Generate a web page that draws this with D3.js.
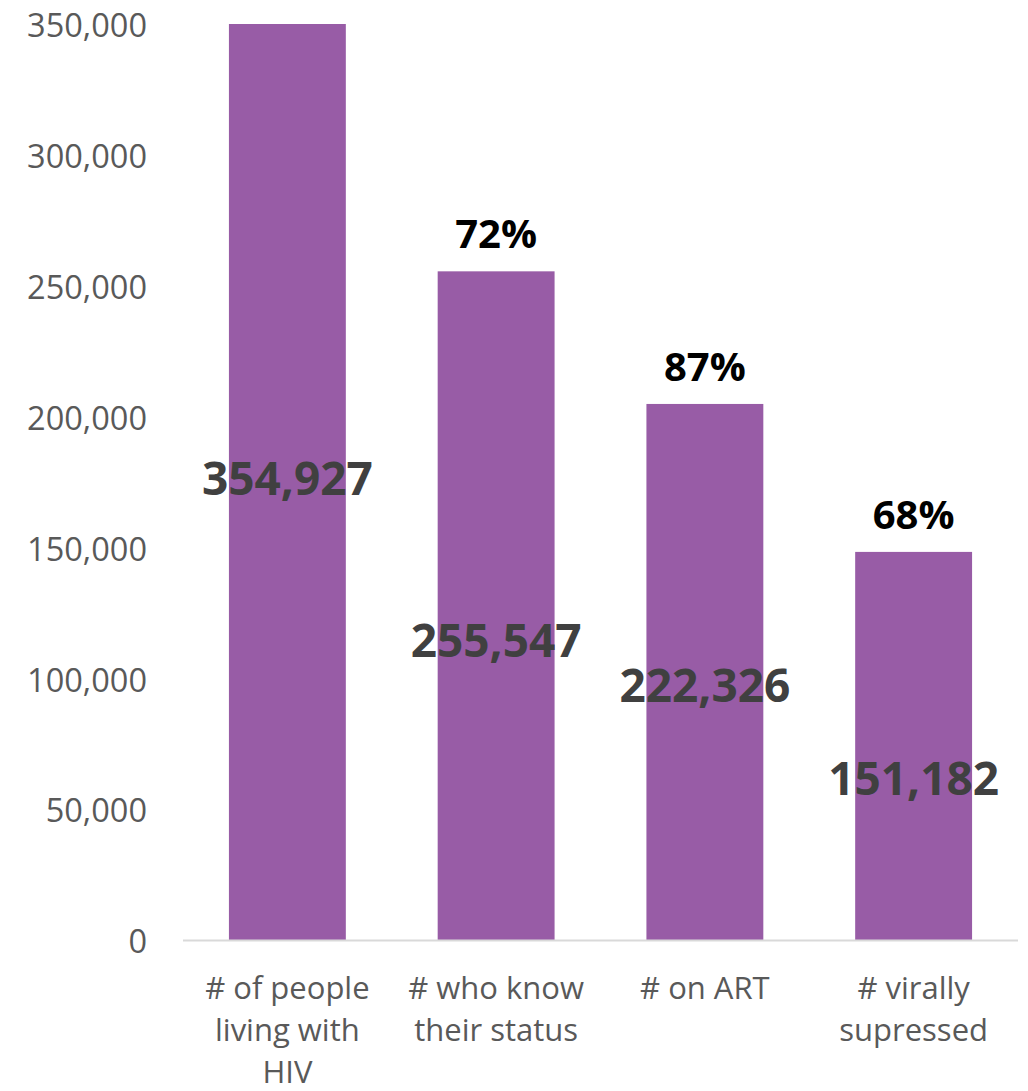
<!DOCTYPE html>
<html>
<head>
<meta charset="utf-8">
<script src="https://cdn.jsdelivr.net/npm/d3@7"></script>
<style>
  body { margin: 0; background: #fff; }
  svg { display: block; font-family: "Open Sans", "Noto Sans", sans-serif; }
</style>
</head>
<body>
<div id="chart"></div>
<script>
// cascade data
var categories = ["# of people living with HIV", "# who know their status", "# on ART", "# virally supressed"];
var catLines = [["# of people", "living with", "HIV"], ["# who know", "their status"], ["# on ART"], ["# virally", "supressed"]];
var barValues = [354927, 255547, 204900, 148400];
var valueLabels = ["354,927", "255,547", "222,326", "151,182"];
var pctLabels = ["", "72%", "87%", "68%"];
var labelAt = [177000, 115000, 98000, 62300];
var yTicks = [0, 50000, 100000, 150000, 200000, 250000, 300000, 350000];

var width = 1028, height = 1091;
var margin = {top: 24, right: 10, bottom: 150.5, left: 183};

var svg = d3.select("#chart").append("svg")
    .attr("width", width)
    .attr("height", height);

var x = d3.scaleBand()
    .domain(categories)
    .range([margin.left, width - margin.right])
    .paddingInner(0.44)
    .paddingOuter(0.22);

var y = d3.scaleLinear()
    .domain([0, 350000])
    .range([height - margin.bottom, margin.top])
    .clamp(true);

// y axis labels
var yAxis = svg.append("g")
    .attr("transform", "translate(" + (margin.left - 36) + ",2)")
    .call(d3.axisLeft(y).tickValues(yTicks).tickSize(0).tickPadding(0)
      .tickFormat(d3.format(",")));
yAxis.select(".domain").remove();
yAxis.selectAll("text")
    .style("font-family", "'Open Sans', sans-serif")
    .style("font-size", "32.5px")
    .style("fill", "#595959");

// bars
svg.selectAll("rect.bar").data(barValues)
  .enter().append("rect")
    .attr("class", "bar")
    .attr("x", function(d, i) { return x(categories[i]); })
    .attr("y", function(d) { return y(d); })
    .attr("width", x.bandwidth())
    .attr("height", function(d) { return y(0) - y(d); })
    .style("fill", "#985ca6");

// baseline
svg.append("line")
    .attr("x1", margin.left)
    .attr("x2", width - margin.right)
    .attr("y1", y(0))
    .attr("y2", y(0))
    .style("stroke", "#d9d9d9")
    .style("stroke-width", 2);

// x labels
var xl = svg.selectAll("text.xlab").data(catLines)
  .enter().append("text")
    .attr("class", "xlab")
    .attr("text-anchor", "middle")
    .style("font-size", "31px")
    .style("fill", "#595959");
xl.each(function(lines, i) {
  var t = d3.select(this);
  lines.forEach(function(l, j) {
    t.append("tspan")
      .attr("x", x(categories[i]) + x.bandwidth() / 2)
      .attr("y", y(0) + 58 + j * 42)
      .text(l);
  });
});

// value labels
svg.selectAll("text.val").data(valueLabels)
  .enter().append("text")
    .attr("class", "val")
    .attr("x", function(d, i) { return x(categories[i]) + x.bandwidth() / 2; })
    .attr("y", function(d, i) { return y(labelAt[i]); })
    .attr("text-anchor", "middle")
    .attr("dominant-baseline", "central")
    .style("font-size", "46px")
    .style("font-weight", "bold")
    .style("fill", "#404040")
    .text(function(d) { return d; });

// percent labels
svg.selectAll("text.pct").data(pctLabels)
  .enter().append("text")
    .attr("class", "pct")
    .attr("x", function(d, i) { return x(categories[i]) + x.bandwidth() / 2; })
    .attr("y", function(d, i) { return y(barValues[i]) - 23; })
    .attr("text-anchor", "middle")
    .style("font-size", "40px")
    .style("font-weight", "bold")
    .style("fill", "#000")
    .text(function(d) { return d; });
</script>
</body>
</html>
